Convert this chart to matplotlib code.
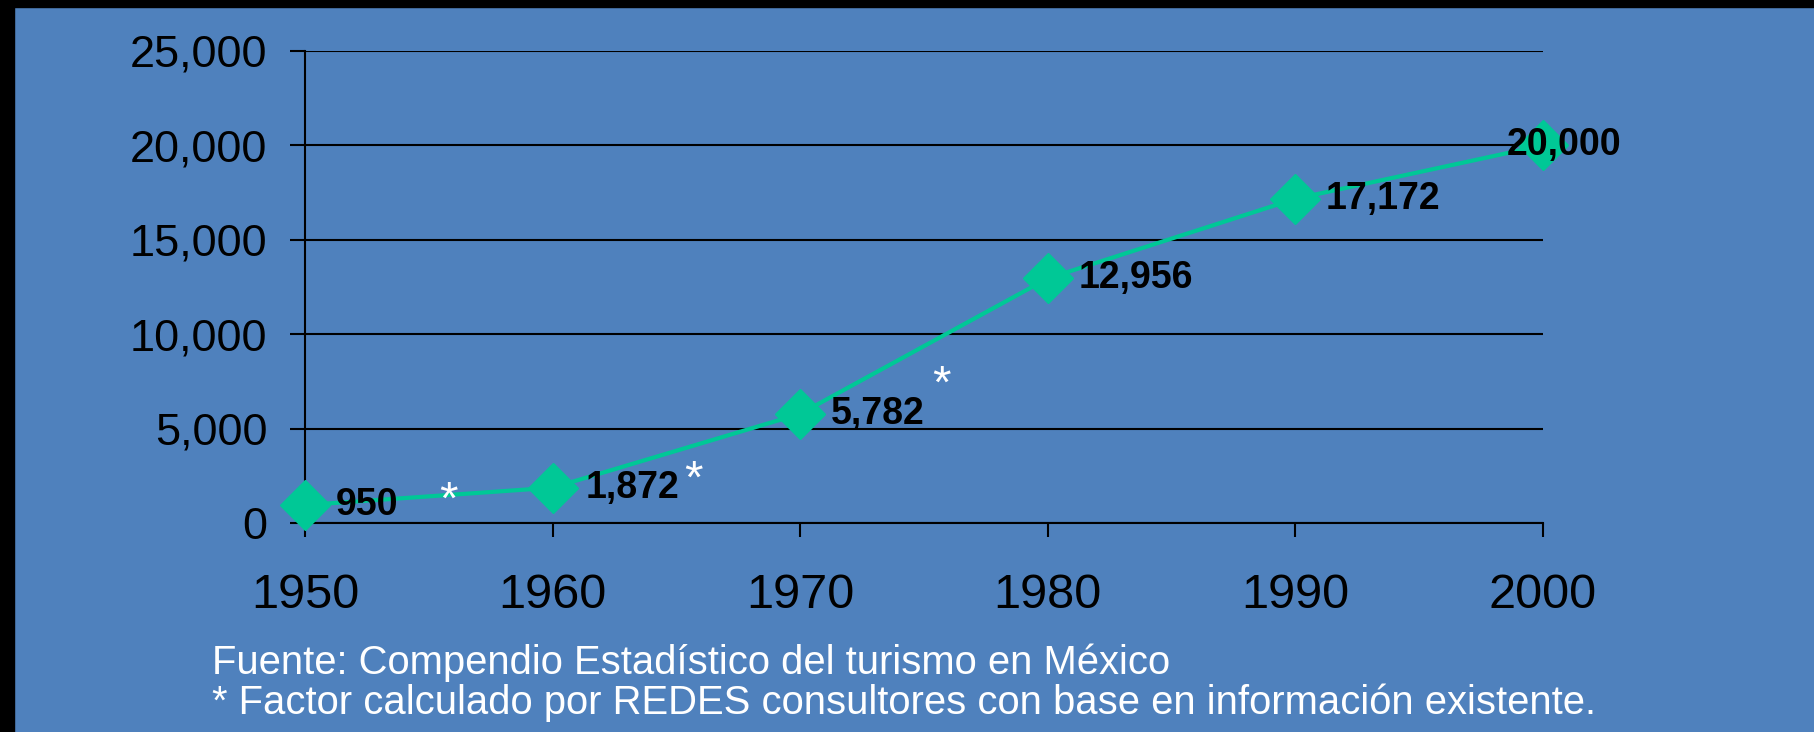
import matplotlib
matplotlib.use("Agg")
import matplotlib.pyplot as plt
from matplotlib.patches import Rectangle
from matplotlib.ticker import FuncFormatter

# datos: turistas (miles) por decada
years = [1950, 1960, 1970, 1980, 1990, 2000]
values = [950, 1872, 5782, 12956, 17172, 20000]
labels = ["950", "1,872", "5,782", "12,956", "17,172", "20,000"]
# asteriscos (valores estimados)
star_x = [1955.8, 1965.7, 1975.7]
star_y = [1589, 2701, 7733]

blue = "#4F81BD"
green = "#00C896"

plt.rcParams['font.family'] = ['Liberation Sans', 'DejaVu Sans']

fig = plt.figure(figsize=(18.14, 7.32), dpi=100, facecolor=blue)
ax = fig.add_axes([305/1814, 1-523/732, (1543-305)/1814, (523-51)/732])
ax.set_facecolor(blue)

ax.plot(years, values, color=green, lw=3, marker="D", ms=25, zorder=3, clip_on=False)

# etiquetas de datos
offs = [(22, 0), (24, 0), (22, 0), (22, 0), (22, 0), (-26, 0)]
for x, y, t, o in zip(years, values, labels, offs):
    ax.annotate(t, (x, y), xytext=o, textcoords="offset points", ha="left", va="center",
                fontsize=27, fontweight="bold", color="black", zorder=4, annotation_clip=False)

for x, y in zip(star_x, star_y):
    ax.annotate("*", (x, y), xytext=(0, -6), textcoords="offset points",
                color="white", fontsize=34, ha="center", va="center")

ax.set_xlim(1950, 2000)
ax.set_ylim(0, 25000)
ax.set_xticks(years)
ax.set_yticks(range(0, 25001, 5000))
ax.yaxis.set_major_formatter(FuncFormatter(lambda v, p: f"{int(v):,}"))
ax.grid(axis="y", color="black", lw=1.5)
ax.set_axisbelow(True)
for s in ["top", "right"]:
    ax.spines[s].set_visible(False)
for s in ["left", "bottom"]:
    ax.spines[s].set_linewidth(1.5)
ax.tick_params(axis="y", length=11, width=1.5, pad=16, labelsize=32.5, colors="black")
ax.tick_params(axis="x", length=10, width=1.5, pad=26, labelsize=35, colors="black")

fig.text(212/1814, 1-663/732, "Fuente: Compendio Estadístico del turismo en México",
         color="white", fontsize=28.8, va="center", ha="left")
fig.text(212/1814, 1-703/732, "* Factor calculado por REDES consultores con base en información existente.",
         color="white", fontsize=28.8, va="center", ha="left")

# bordes negros
fig.add_artist(Rectangle((0, 0), 14/1814, 1, transform=fig.transFigure, color="black", zorder=10))
fig.add_artist(Rectangle((0, 1-7/732), 1, 7/732, transform=fig.transFigure, color="black", zorder=10))

fig.savefig("out.png", dpi=100, facecolor=blue)
